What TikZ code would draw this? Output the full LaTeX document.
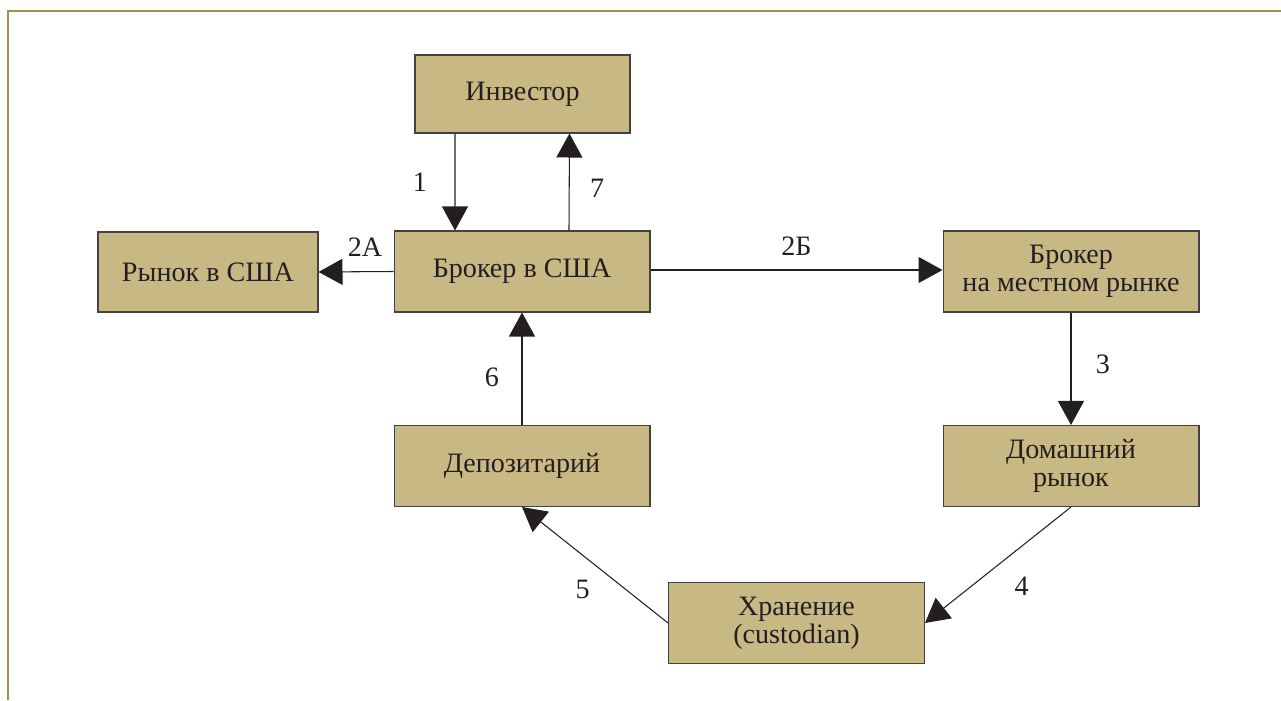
\documentclass[tikz,border=0pt]{standalone}
\usepackage{fontspec}
\setmainfont{Liberation Serif}
\usetikzlibrary{arrows.meta}
\definecolor{boxfill}{HTML}{C8B884}
\definecolor{framecol}{HTML}{A0934F}
\definecolor{inkcol}{HTML}{231F20}

\begin{document}
\begin{tikzpicture}[x=0.02cm, y=0.02cm,
    box/.style={draw=inkcol!85, line width=0.6pt, fill=boxfill, align=center, inner sep=0pt,
      minimum width=5.12cm, minimum height=1.62cm, font=\fontsize{16}{16}\selectfont, text=inkcol},
    arr/.style={-{Triangle[length=0.48cm, width=0.52cm]}, line width=0.6pt, draw=inkcol},
    lbl/.style={font=\fontsize{16}{16}\selectfont, text=inkcol}]
  \useasboundingbox (0,0) rectangle (1281,700);
  % frame corner
  \draw[framecol, line width=1.4pt] (8,0) -- (8,689) -- (1281,689);

  % boxes
  \node[box, minimum width=4.3cm, minimum height=1.56cm] (inv) at (522.5,606) {Инвестор};
  \node[box, minimum width=4.4cm, minimum height=1.6cm] (usm) at (208,428) {Рынок в США};
  \node[box] (usb) at (522,428.5) {Брокер в США};
  \node[box] (lb) at (1071,428.5) {Брокер\\на местном рынке};
  \node[box] (dep) at (522,234) {Депозитарий};
  \node[box] (dom) at (1071,234) {Домашний\\рынок};
  \node[box] (cust) at (796.5,77) {Хранение\\(custodian)};

  % flows
  \draw[arr] ([xshift=-1.35cm]inv.south) -- ([xshift=-1.34cm]usb.north) node[lbl, midway, xshift=-0.7cm] {1};
  \draw[arr] ([xshift=0.94cm]usb.north) -- ([xshift=0.94cm]inv.south) node[lbl, pos=0.44, xshift=0.56cm] {7};
  \draw[arr] (usb.west) -- (usm.east) node[lbl, pos=0.38, yshift=0.48cm] {2А};
  \draw[arr] ([yshift=0.03cm]usb.east) -- ([yshift=0.03cm]lb.west) node[lbl, midway, yshift=0.48cm] {2Б};
  \draw[arr] (lb.south) -- (dom.north) node[lbl, pos=0.46, xshift=0.64cm] {3};
  \draw[arr] (dom.south) -- (cust.east) node[lbl, pos=0.68, xshift=1cm] {4};
  \draw[arr] (cust.west) -- (dep.south) node[lbl, pos=0.29, xshift=-0.86cm] {5};
  \draw[arr] (dep.north) -- (usb.south) node[lbl, pos=0.42, xshift=-0.6cm] {6};
\end{tikzpicture}
\end{document}
